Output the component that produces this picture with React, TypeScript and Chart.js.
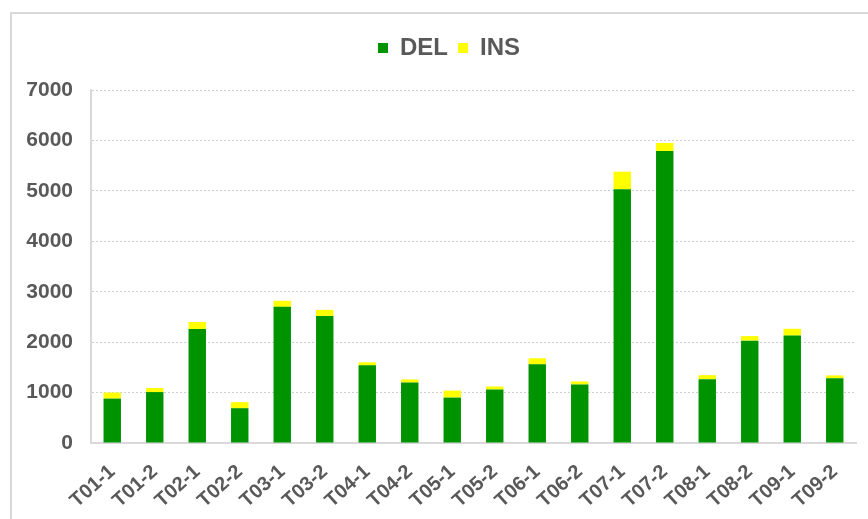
import React, { useEffect, useRef } from "react";
import { Chart, registerables } from "chart.js";

Chart.register(...registerables);

const categories = [
  "T01-1", "T01-2", "T02-1", "T02-2", "T03-1", "T03-2", "T04-1", "T04-2", "T05-1",
  "T05-2", "T06-1", "T06-2", "T07-1", "T07-2", "T08-1", "T08-2", "T09-1", "T09-2",
];
const delValues = [880, 1010, 2260, 690, 2700, 2520, 1540, 1200, 900, 1060, 1560, 1160, 5030, 5790, 1265, 2030, 2130, 1285];
const insValues = [120, 80, 140, 120, 120, 120, 60, 60, 140, 60, 120, 60, 350, 160, 80, 90, 135, 55];
const yTicks = [0, 1000, 2000, 3000, 4000, 5000, 6000, 7000];

const FONT = "'Liberation Sans', Arial, sans-serif";
const TEXT = "#595959";
const LINE = "#d9d9d9";

export default function App() {
  const ref = useRef<HTMLCanvasElement | null>(null);

  useEffect(() => {
    document.body.style.margin = "0";
    const canvas = ref.current;
    if (!canvas) return;
    const legendSpace = {
      id: "legendSpace",
      beforeInit(chart: any) {
        const orig = chart.legend.fit;
        chart.legend.fit = function () {
          orig.bind(chart.legend)();
          this.height += 20;
        };
      },
      afterLayout(chart: any) {
        const lg = chart.legend;
        if (lg) {
          lg.left += 21;
          lg.right += 21;
        }
      },
    };
    const chart = new Chart(canvas, {
      type: "bar",
      data: {
        labels: categories,
        datasets: [
          {
            label: "DEL",
            data: delValues,
            backgroundColor: "#009300",
            borderWidth: 0,
            barPercentage: 0.41,
            categoryPercentage: 1,
          },
          {
            label: "INS",
            data: insValues,
            backgroundColor: "#ffff00",
            borderWidth: 0,
            barPercentage: 0.41,
            categoryPercentage: 1,
          },
        ],
      },
      options: {
        animation: false,
        responsive: false,
        maintainAspectRatio: false,
        layout: { padding: { left: 0, right: 12, top: 26, bottom: 0 } },
        plugins: {
          tooltip: { enabled: false },
          legend: {
            position: "top",
            align: "center",
            labels: {
              boxWidth: 10,
              boxHeight: 10,
              padding: 10,
              color: TEXT,
              font: { family: FONT, size: 24, weight: "bold" },
            },
          },
        },
        scales: {
          x: {
            stacked: true,
            grid: { display: false, drawTicks: false },
            border: { display: true, color: LINE, width: 2 },
            ticks: {
              color: TEXT,
              font: { family: FONT, size: 20, weight: "bold" },
              minRotation: 42,
              maxRotation: 42,
              padding: 17,
              autoSkip: false,
            },
            afterFit(scale: any) {
              scale.height = 76;
              scale.paddingLeft = 0;
              scale.paddingRight = 0;
            },
          },
          y: {
            stacked: true,
            min: 0,
            max: 7000,
            grid: {
              color: "#cfcfcf",
              lineWidth: 1,
              drawTicks: false,
            },
            border: { display: true, color: LINE, width: 2, dash: [2, 2] },
            ticks: {
              stepSize: 1000,
              color: TEXT,
              font: { family: FONT, size: 21, weight: "bold" },
              padding: 18,
              callback: (v: any) => (yTicks.includes(Number(v)) ? String(v) : ""),
            },
            afterFit(scale: any) {
              scale.width = 91;
              scale.paddingTop = 0;
              scale.paddingBottom = 0;
            },
          },
        },
      },
      plugins: [legendSpace],
    });
    return () => chart.destroy();
  }, []);

  return (
    <div style={{ position: "relative", width: 868, height: 519, overflow: "hidden", background: "#fff" }}>
      <div
        style={{
          position: "absolute",
          left: 10,
          top: 12,
          width: 900,
          height: 600,
          borderLeft: `2px solid ${LINE}`,
          borderTop: `2px solid ${LINE}`,
        }}
      />
      <canvas ref={ref} width={868} height={519} style={{ position: "absolute", left: 0, top: 0 }} />
    </div>
  );
}
